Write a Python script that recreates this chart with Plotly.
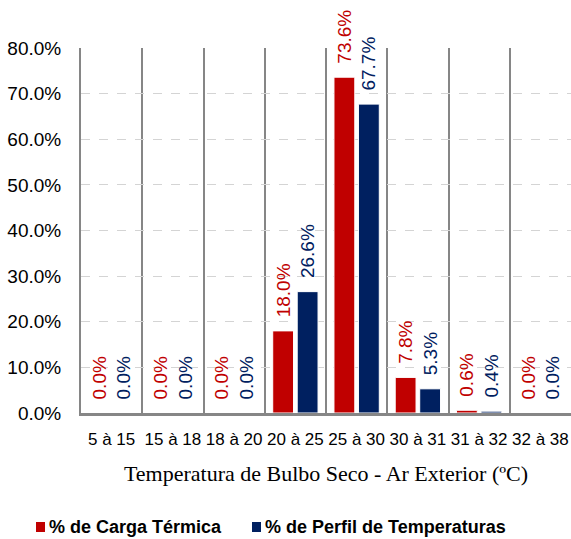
import plotly.graph_objects as go

# Dry-bulb temperature ranges (ºC)
faixas = ["5 à 15", "15 à 18", "18 à 20", "20 à 25", "25 à 30", "30 à 31", "31 à 32", "32 à 38"]
# Share of thermal load per range (%)
carga_termica = [0.0, 0.0, 0.0, 18.0, 73.6, 7.8, 0.6, 0.0]
# Share of hours in the temperature profile per range (%)
perfil_temperaturas = [0.0, 0.0, 0.0, 26.6, 67.7, 5.3, 0.4, 0.0]

VERMELHO = "#C00000"
AZUL = "#002060"
FONTE = "Arial, Liberation Sans, sans-serif"
NBSP = "\u00a0"

W, H = 571, 539
M = dict(l=81, r=0, t=48, b=126)
PLOT_W = W - M["l"] - M["r"]
PLOT_H = H - M["t"] - M["b"]


def px_x(px):
    """Page pixel column -> paper x."""
    return (px - M["l"]) / PLOT_W


def px_y(py):
    """Page pixel row -> paper y."""
    return (H - M["b"] - py) / PLOT_H


series = [
    ("% de Carga Térmica", carga_termica, VERMELHO),
    ("% de Perfil de Temperaturas", perfil_temperaturas, AZUL),
]

fig = go.Figure()
for nome, valores, cor in series:
    fig.add_trace(go.Bar(
        x=faixas,
        y=valores,
        name=nome,
        showlegend=False,
        marker=dict(color=cor, line=dict(color="white", width=1)),
        # non-breaking spaces lift the rotated label a little off the bar top
        texttemplate=NBSP * 2 + "%{y:.1f}%",
        textposition="outside",
        textangle=-90,
        textfont=dict(family=FONTE, size=19, color=cor),
        constraintext="none",
        cliponaxis=False,
    ))

# Legend row below the axis title: coloured square + bold label
legenda_x = [36, 252]   # left edge of each swatch (page px)
legenda_y = 527         # vertical centre of the row (page px)
for (nome, _, cor), x0 in zip(series, legenda_x):
    fig.add_shape(
        type="rect", xref="paper", yref="paper",
        x0=px_x(x0), x1=px_x(x0 + 9),
        y0=px_y(legenda_y - 5), y1=px_y(legenda_y + 5),
        fillcolor=cor, line=dict(width=0),
    )
    fig.add_annotation(
        text=nome, xref="paper", yref="paper",
        x=px_x(x0 + 11), y=px_y(legenda_y),
        xanchor="left", yanchor="middle", showarrow=False,
        font=dict(family=FONTE, size=18, color="black", weight="bold"),
    )

fig.update_layout(
    width=W,
    height=H,
    margin=M,
    paper_bgcolor="white",
    plot_bgcolor="white",
    barmode="group",
    bargap=0.2,
    bargroupgap=0.15,
    font=dict(family=FONTE, color="black"),
    xaxis=dict(
        type="category",
        tickson="boundaries",
        showgrid=True,
        gridcolor="#868686",
        gridwidth=2,
        showline=True,
        linecolor="#868686",
        linewidth=3,
        ticks="",
        tickfont=dict(family=FONTE, size=17, color="black"),
        ticklabelstandoff=9,
        tickangle=0,
        title=dict(
            text="Temperatura de Bulbo Seco - Ar Exterior (ºC)",
            font=dict(family="Times New Roman, Liberation Serif, serif", size=22, color="black"),
            standoff=18,
        ),
    ),
    yaxis=dict(
        range=[0, 80],
        dtick=10,
        tickformat=".1f",
        ticksuffix="%",
        showgrid=True,
        gridcolor="#d4d4d4",
        gridwidth=1,
        griddash="dash",
        showline=True,
        linecolor="#868686",
        linewidth=2,
        zeroline=False,
        ticks="",
        tickfont=dict(family=FONTE, size=19, color="black"),
        ticklabelstandoff=14,
    ),
)

fig.write_html("out.html")
